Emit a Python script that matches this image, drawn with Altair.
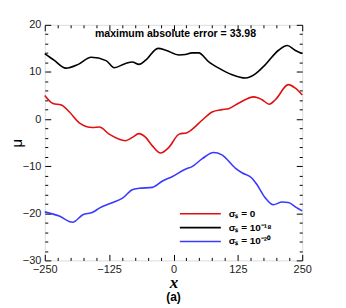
import altair as alt
import pandas as pd

series_names = ["σₛ = 0", "σₛ = 10⁻¹⁸", "σₛ = 10⁻²⁰"]
colors = ["#e01010", "#000000", "#3a3aff"]

black_x = [-250, -232, -209, -185, -160, -131, -115, -93, -80, -67, -54, -30, -15, 11, 23, 36, 49, 68, 88, 114, 140, 159, 178, 204, 221, 236, 250]
black_y = [13.9, 12.5, 10.8, 11.6, 13.1, 12.4, 10.9, 11.8, 12.1, 11.6, 12.5, 15.0, 14.6, 13.6, 13.7, 14.05, 14.05, 12.2, 10.8, 9.4, 8.7, 9.6, 11.5, 14.6, 15.6, 14.6, 13.9]

red_x = [-250, -234, -218, -202, -183, -157, -144, -125, -93, -80, -67, -54, -41, -25, -9, 11, 26, 36, 56, 75, 94, 107, 127, 156, 172, 186, 198, 223, 236, 250]
red_y = [5.0, 3.3, 3.0, 1.5, -0.8, -1.8, -1.7, -3.2, -4.6, -3.9, -3.1, -3.9, -5.7, -7.2, -6.0, -3.2, -2.9, -2.2, -0.2, 1.5, 2.0, 2.2, 3.4, 4.7, 4.1, 3.15, 4.1, 7.3, 6.6, 5.1]

blue_x = [-250, -222, -196, -176, -157, -144, -118, -99, -80, -67, -41, -22, -2, 24, 36, 56, 78, 94, 120, 133, 152, 162, 178, 194, 211, 223, 239, 250]
blue_y = [-19.7, -20.6, -21.9, -20.3, -19.8, -18.9, -17.7, -16.8, -15.0, -14.7, -14.5, -13.2, -12.2, -10.6, -10.1, -8.4, -7.1, -7.6, -10.4, -11.4, -12.5, -13.9, -16.7, -18.2, -17.6, -17.7, -18.8, -19.5]

x_ticks = [-250, -125, 0, 125, 250]
y_ticks = [20, 10, 0, -10, -20, -30]
x_minor = [v for v in range(-250, 251, 25) if v not in x_ticks]
y_minor = [v for v in range(-30, 21, 2) if v not in y_ticks]

rows = []
for name, xs, ys in [(series_names[0], red_x, red_y), (series_names[1], black_x, black_y), (series_names[2], blue_x, blue_y)]:
    for i, (a, b) in enumerate(zip(xs, ys)):
        rows.append({"series": name, "x": a, "mu": b, "i": i})
df = pd.DataFrame(rows)

W, H = 259, 237
xscale = alt.Scale(domain=[-250, 250], nice=False, zero=False)
yscale = alt.Scale(domain=[-30, 20], nice=False, zero=False)

lines = alt.Chart(df).mark_line(strokeWidth=1.6, interpolate="monotone").encode(
    x=alt.X("x:Q", scale=xscale,
            axis=alt.Axis(orient="bottom", values=x_ticks, title="x", ticks=False,
                          labelPadding=3, labelFontSize=11,
                          labelFont="Liberation Sans", labelColor="#222",
                          titleFont="Liberation Serif", titleFontStyle="italic",
                          titleFontWeight="bold", titleFontSize=17, titlePadding=0,
                          domain=False, grid=False, labelFlush=False)),
    y=alt.Y("mu:Q", scale=yscale,
            axis=alt.Axis(orient="left", values=y_ticks, title="μ", ticks=False,
                          labelPadding=4, labelFontSize=11,
                          labelFont="Liberation Sans", labelColor="#222",
                          titleFont="Liberation Sans", titleFontSize=15,
                          titleFontWeight="normal", titlePadding=-2,
                          domain=False, grid=False)),
    color=alt.Color("series:N", scale=alt.Scale(domain=series_names, range=colors),
                    legend=alt.Legend(orient="none", legendX=135, legendY=183, title=None,
                                      symbolType="stroke", symbolSize=1700, symbolStrokeWidth=1.6,
                                      clipHeight=14, rowPadding=0, padding=0,
                                      labelFont="Liberation Sans", labelFontWeight="bold",
                                      labelFontSize=10, labelOffset=7)),
    order="i:Q",
)


def tick_layer(orient_x, orient_y, xv, yv, size):
    return alt.Chart(df).mark_line(opacity=0).encode(
        x=alt.X("x:Q", scale=xscale,
                axis=alt.Axis(orient=orient_x, values=xv, labels=False, title=None,
                              tickSize=size, offset=-size, tickWidth=1, domain=False,
                              grid=False, tickColor="black")),
        y=alt.Y("mu:Q", scale=yscale,
                axis=alt.Axis(orient=orient_y, values=yv, labels=False, title=None,
                              tickSize=size, offset=-size, tickWidth=1, domain=False,
                              grid=False, tickColor="black")),
        detail="series:N",
    )


ticks = [
    tick_layer("bottom", "left", x_ticks, y_ticks, 6),
    tick_layer("bottom", "left", x_minor, y_minor, 3),
    tick_layer("top", "right", x_ticks, y_ticks, 6),
    tick_layer("top", "right", x_minor, y_minor, 3),
]

label = alt.Chart(pd.DataFrame({"t": ["maximum absolute error = 33.98"]})).mark_text(
    font="Liberation Sans", fontWeight="bold", fontSize=10.6, color="black", baseline="middle"
).encode(x=alt.value(W / 2 + 2), y=alt.value(9), text="t:N")

chart = alt.layer(lines, *ticks, label).resolve_axis(x="independent", y="independent").properties(
    width=W, height=H,
    title=alt.TitleParams("(a)", orient="bottom", fontSize=12, font="Liberation Sans",
                          fontWeight="bold", offset=2),
    autosize=alt.AutoSizeParams(type="none"),
    padding={"left": 37, "top": 16, "right": 36, "bottom": 50},
).configure_view(stroke="black", strokeWidth=2).configure(background="white")

chart.save("out.html", embed_options={"renderer": "svg", "actions": False})
